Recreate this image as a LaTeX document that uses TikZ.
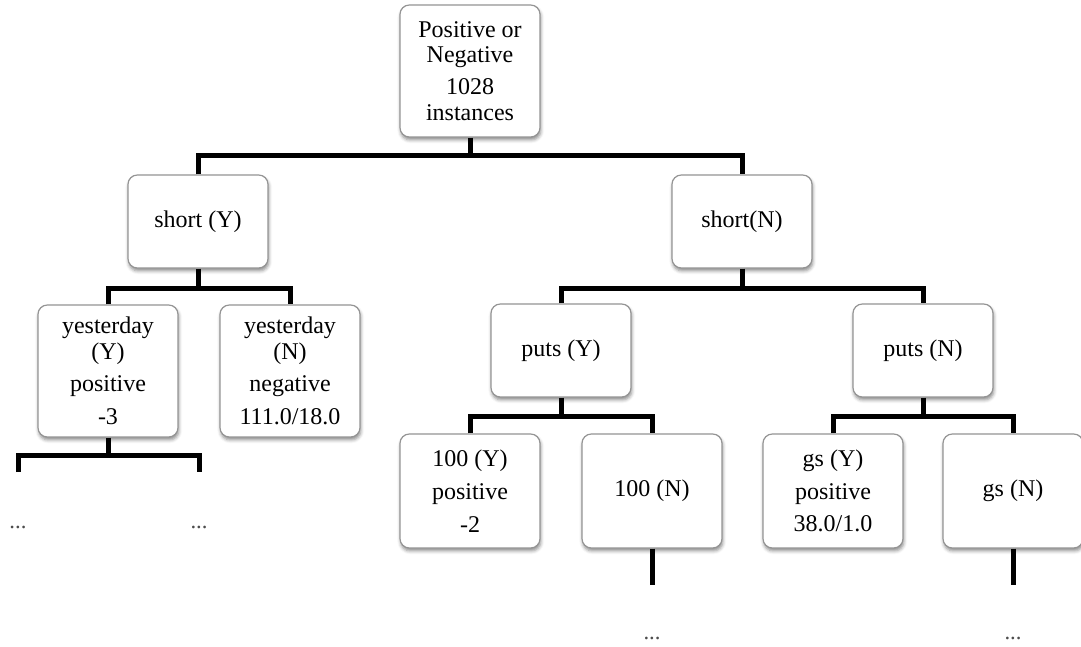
\documentclass[tikz,border=0pt]{standalone}
\usepackage{fontspec}
\setmainfont{Liberation Serif}
\usetikzlibrary{shadows.blur,calc}
\begin{document}
\begin{tikzpicture}[x=0.75pt,y=-0.75pt,
  treebox/.style={draw=black!42, line width=0.9pt, rounded corners=7pt, fill=white,
    align=center, inner sep=0pt, minimum width=105pt,
    font=\fontsize{18}{19}\selectfont,
    blur shadow={shadow xshift=0.6pt, shadow yshift=-2.2pt, shadow blur radius=2.5pt, shadow opacity=45}},
  tall/.style={minimum height=99pt},
  mid/.style={minimum height=85.5pt},
  low/.style={minimum height=69.75pt},
  edge/.style={line width=3.75pt, black},
  more/.style={font=\fontsize{17}{18}\selectfont, text=black!70, inner sep=0pt, anchor=base}]
\useasboundingbox (0,0) rectangle (1081,646);

% decision nodes
\node[treebox,tall] (root)   at (470,71)    {Positive or\\Negative\\[5pt]1028\\instances};
\node[treebox,low]  (shortY) at (198,221.5) {short (Y)};
\node[treebox,low]  (shortN) at (742,221.5) {short(N)};
\node[treebox,tall] (yesY)   at (108,371)   {yesterday\\(Y)\\[5.5pt]positive\\[5.5pt]-3};
\node[treebox,tall] (yesN)   at (290,371)   {yesterday\\(N)\\[5.5pt]negative\\[5.5pt]111.0/18.0};
\node[treebox,low]  (putsY)  at (561,350.5) {puts (Y)};
\node[treebox,low]  (putsN)  at (923,350.5) {puts (N)};
\node[treebox,mid]  (hY)     at (470,491)   {100 (Y)\\[5.5pt]positive\\[5.5pt]-2};
\node[treebox,mid]  (hN)     at (652,491)   {100 (N)};
\node[treebox,mid]  (gY)     at (833,491)   {gs (Y)\\[5.5pt]positive\\[5.5pt]38.0/1.0};
\node[treebox,mid]  (gN)     at (1013,491)  {gs (N)};

% heights of the horizontal bars
\coordinate (b0) at (0,155);
\coordinate (b1) at (0,288);
\coordinate (b2) at (0,416);
\coordinate (b3) at (0,455);

% free ends of the unexpanded branches
\coordinate (yl) at (18,472);
\coordinate (yr) at (199,472);
\coordinate (hEnd) at (652,585);
\coordinate (gEnd) at (1013,585);

% branches
\draw[edge] (root.south) -- (root.south |- b0);
\draw[edge] (shortY.north) |- (shortN.north |- b0) -- (shortN.north);

\draw[edge] (shortY.south) -- (shortY.south |- b1);
\draw[edge] (yesY.north) |- (yesN.north |- b1) -- (yesN.north);

\draw[edge] (shortN.south) -- (shortN.south |- b1);
\draw[edge] (putsY.north) |- (putsN.north |- b1) -- (putsN.north);

\draw[edge] (putsY.south) -- (putsY.south |- b2);
\draw[edge] (hY.north) |- (hN.north |- b2) -- (hN.north);

\draw[edge] (putsN.south) -- (putsN.south |- b2);
\draw[edge] (gY.north) |- (gN.north |- b2) -- (gN.north);

\draw[edge] (yesY.south) -- (yesY.south |- b3);
\draw[edge] (yl) |- (yr |- b3) -- (yr);

\draw[edge] (hN.south) -- (hEnd);
\draw[edge] (gN.south) -- (gEnd);

% continuation marks
\node[more] (d1) at (18,528)   {...};
\node[more] (d2) at (199,528)  {...};
\node[more] (d3) at (652,639)  {...};
\node[more] (d4) at (1013,639) {...};
\end{tikzpicture}
\end{document}
